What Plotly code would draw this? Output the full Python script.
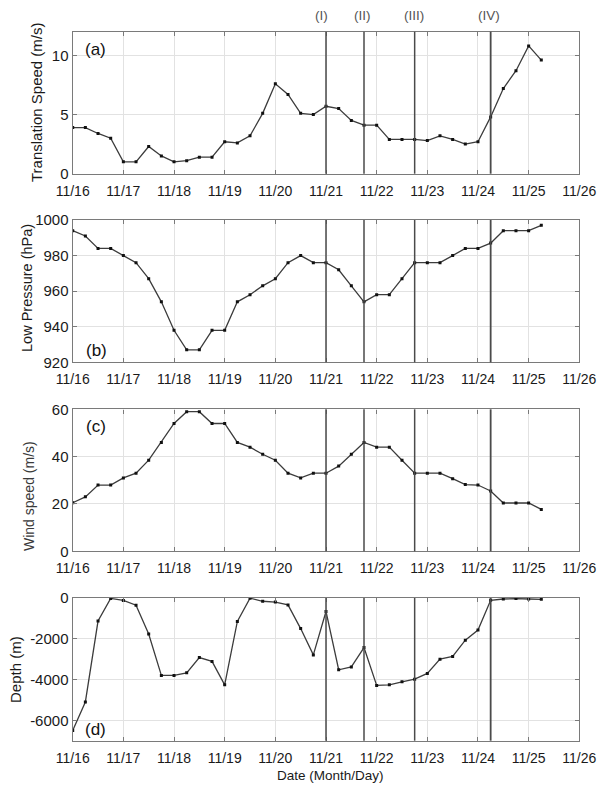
import plotly.graph_objects as go
import pandas as pd

# ---- data (6-hourly from 11/16 00:00 to 11/25 06:00) ----
times = pd.date_range("2013-11-16 00:00", periods=38, freq="6h")

translation_speed = [3.9, 3.9, 3.4, 3.0, 1.0, 1.0, 2.3, 1.5, 1.0, 1.1, 1.4, 1.4,
                     2.7, 2.6, 3.2, 5.1, 7.6, 6.7, 5.1, 5.0, 5.7, 5.5, 4.5, 4.1,
                     4.1, 2.9, 2.9, 2.9, 2.8, 3.2, 2.9, 2.5, 2.7, 4.8, 7.2, 8.7,
                     10.8, 9.6]
low_pressure = [994, 991, 984, 984, 980, 976, 967, 954, 938, 927, 927, 938,
                938, 954, 958, 963, 967, 976, 980, 976, 976, 972, 963, 954,
                958, 958, 967, 976, 976, 976, 980, 984, 984, 987, 994, 994,
                994, 997]
wind_speed = [20.5, 23, 28, 28, 31, 33, 38.5, 46, 54, 59, 59, 54,
              54, 46, 44, 41, 38.5, 33, 31, 33, 33, 36, 41, 46,
              44, 44, 38.5, 33, 33, 33, 30.7, 28.2, 28, 25.5, 20.4, 20.4,
              20.4, 17.7]
depth = [-6500, -5100, -1130, -20, -120, -350, -1770, -3800, -3800, -3670, -2920, -3110,
         -4260, -1150, -10, -160, -200, -340, -1500, -2790, -660, -3520, -3380, -2430,
         -4290, -4260, -4110, -3980, -3700, -3000, -2870, -2070, -1570, -115, -50, -30,
         -50, -65]

event_times = ["2013-11-21 00:00", "2013-11-21 18:00", "2013-11-22 18:00", "2013-11-24 06:00"]
event_labels = ["(I)", "(II)", "(III)", "(IV)"]

day_ticks = pd.date_range("2013-11-16", "2013-11-26", freq="D")
day_labels = [d.strftime("%m/%d") for d in day_ticks]

panel_series = [translation_speed, low_pressure, wind_speed, depth]
panel_letters = ["(a)", "(b)", "(c)", "(d)"]
y_titles = ["Translation Speed (m/s)", "Low Pressure (hPa)", "Wind speed (m/s)", "Depth (m)"]
y_ranges = [[0, 12], [920, 1000], [0, 60], [-7000, 0]]
y_tickvals = [[0, 5, 10], [920, 940, 960, 980, 1000], [0, 20, 40, 60], [-6000, -4000, -2000, 0]]
y_ticktext = [["0", "5", "10"], ["920", "940", "960", "980", "1000"], ["0", "20", "40", "60"],
              ["-6000", "-4000", "-2000", "0"]]

# ---- layout geometry (pixels) ----
W, H = 599, 787
x_left, x_right = 72.7, 579.3
panel_px = [(31.7, 173.7), (220.0, 362.3), (409.3, 551.3), (598.0, 740.7)]
title_pos = [(37, 102), (27, 288), (29, 496), (15, 670)]
title_size = [15, 14.5, 14, 15]
title_color = ["#1a1a1a", "#1a1a1a", "#3a3a3a", "#1a1a1a"]
letter_pos = [(95, 49), (96, 350), (96, 427), (95, 729)]
label_x_px = [321.7, 362.5, 414.0, 488.5]

FONT = "Liberation Sans, Arial, sans-serif"
fx = lambda px: px / W
fy = lambda py: 1 - py / H

fig = go.Figure()
annotations = []
shapes = []

for i in range(4):
    ax = "" if i == 0 else str(i + 1)
    fig.add_trace(go.Scatter(
        x=times, y=panel_series[i], mode="lines+markers",
        line=dict(color="#3c3c3c", width=1.3),
        marker=dict(symbol="square", size=3, color="#111111"),
        xaxis="x" + ax, yaxis="y" + ax, showlegend=False,
        hoverinfo="x+y"))
    top, bot = panel_px[i]
    common = dict(showline=True, linecolor="#7a7a7a", linewidth=1.4, mirror="ticks",
                  ticks="inside", ticklen=4, tickcolor="#7a7a7a",
                  showgrid=True, gridcolor="#e2e2e2", gridwidth=1,
                  zeroline=False, automargin=False)
    fig.update_layout(**{
        "xaxis" + ax: dict(domain=[fx(x_left), fx(x_right)], anchor="y" + ax, type="date",
                           range=["2013-11-16", "2013-11-26"],
                           tickvals=list(day_ticks), ticktext=day_labels,
                           ticklabelstandoff=4,
                           tickfont=dict(family=FONT, size=14, color="#1a1a1a"), **common),
        "yaxis" + ax: dict(domain=[fy(bot), fy(top)], anchor="x" + ax,
                           range=y_ranges[i], tickvals=y_tickvals[i], ticktext=y_ticktext[i],
                           tickfont=dict(family=FONT, size=15, color="#1a1a1a"), **common),
    })
    # event lines
    for j, t in enumerate(event_times):
        shapes.append(dict(type="line", xref="x" + ax, yref="y" + ax + " domain",
                           x0=t, x1=t, y0=0, y1=1,
                           line=dict(color="#4a4a4a", width=1.8 if j == 3 else 1.5)))
    # y title
    tx, ty = title_pos[i]
    annotations.append(dict(text=y_titles[i], x=fx(tx), y=fy(ty), xref="paper", yref="paper",
                            showarrow=False, textangle=-90, xanchor="center", yanchor="middle",
                            font=dict(family=FONT, size=title_size[i], color=title_color[i])))
    lx, ly = letter_pos[i]
    annotations.append(dict(text=panel_letters[i], x=fx(lx), y=fy(ly), xref="paper", yref="paper",
                            showarrow=False, xanchor="center", yanchor="middle",
                            font=dict(family=FONT, size=17, color="#111111")))

for j, lab in enumerate(event_labels):
    annotations.append(dict(text=lab, x=fx(label_x_px[j]), y=fy(15.5), xref="paper", yref="paper",
                            showarrow=False, xanchor="center", yanchor="middle",
                            font=dict(family=FONT, size=13.5, color="#555555")))

annotations.append(dict(text="Date (Month/Day)", x=fx(330), y=fy(775), xref="paper", yref="paper",
                        showarrow=False, xanchor="center", yanchor="middle",
                        font=dict(family=FONT, size=13.5, color="#1a1a1a")))

fig.update_layout(width=W, height=H, margin=dict(l=0, r=0, t=0, b=0),
                  template="none", paper_bgcolor="white", plot_bgcolor="white",
                  annotations=annotations, shapes=shapes, showlegend=False)

fig.write_html("out.html")
